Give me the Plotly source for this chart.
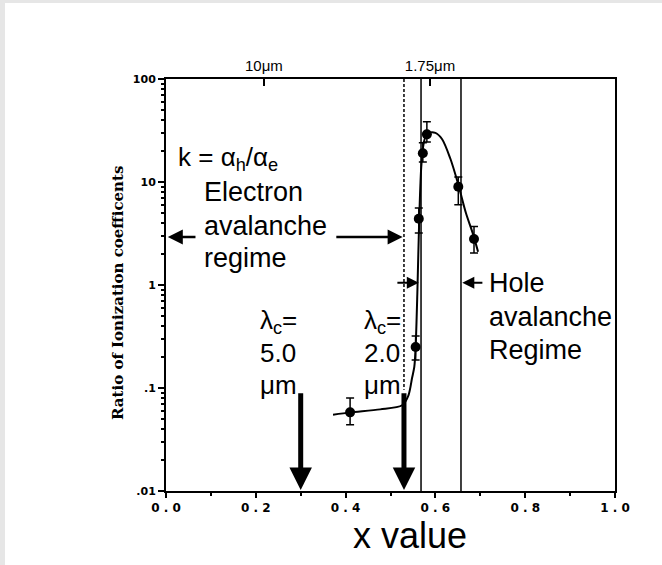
import math
import plotly.graph_objects as go

# Measured ionization-coefficient ratio k = alpha_h / alpha_e
x_meas = [0.410, 0.556, 0.563, 0.572, 0.581, 0.651, 0.686]
k_meas = [0.058, 0.25, 4.4, 19.0, 29.0, 9.0, 2.8]
k_hi = [0.080, 0.32, 5.6, 24.0, 38.5, 11.2, 3.7]
k_lo = [0.044, 0.187, 3.2, 15.6, 24.4, 6.0, 2.05]

# Guide-to-the-eye curve through the measurements
x_fit = [0.372, 0.410, 0.477, 0.526, 0.540, 0.548, 0.553, 0.556, 0.560, 0.564,
         0.569, 0.576, 0.586, 0.600, 0.615, 0.633, 0.650, 0.668, 0.684, 0.695]
k_fit = [0.055, 0.058, 0.062, 0.068, 0.085, 0.125, 0.16, 0.25, 0.9, 4.4,
         15.0, 26.0, 30.0, 30.0, 26.0, 17.0, 9.8, 5.0, 3.1, 2.1]

# Cut-off wavelength markers and regime boundaries
cutoff_x = [0.30, 0.53]
cutoff_labels = ["5.0", "2.0"]
boundary_x = [0.568, 0.657]

# Axis ticks
x_tick_vals = [0.0, 0.2, 0.4, 0.6, 0.8, 1.0]
x_tick_labels = ["0.0", "0.2", "0.4", "0.6", "0.8", "1.0"]
y_tick_vals = [0.01, 0.1, 1, 10, 100]
y_tick_labels = [".01", ".1", "1", "10", "100"]
top_tick_vals = [0.218, 0.588]
top_tick_labels = ["10\u03bcm", "1.75\u03bcm"]

W, H = 662, 565
L, R, T, B = 166, 47, 79, 74

SANS = "Arial, Liberation Sans, sans-serif"
BOLD_TICK = dict(family="DejaVu Sans", size=11, color="black", weight="bold")

fig = go.Figure()

# vertical lines: cut-off (dashed) and regime boundaries (solid)
fig.add_trace(go.Scatter(x=[cutoff_x[1], cutoff_x[1]], y=[100, 0.096], mode="lines",
                         line=dict(color="black", width=1.5, dash="3px,2px"),
                         showlegend=False, hoverinfo="skip"))
for bx in boundary_x:
    fig.add_trace(go.Scatter(x=[bx, bx], y=[0.01, 100], mode="lines",
                             line=dict(color="black", width=1.5),
                             showlegend=False, hoverinfo="skip"))

fig.add_trace(go.Scatter(x=x_fit, y=k_fit, mode="lines",
                         line=dict(color="black", width=2, shape="spline", smoothing=0.8),
                         showlegend=False, hoverinfo="skip"))

fig.add_trace(go.Scatter(
    x=x_meas, y=k_meas, mode="markers",
    marker=dict(color="black", size=10),
    error_y=dict(type="data", symmetric=False,
                 array=[h - k for h, k in zip(k_hi, k_meas)],
                 arrayminus=[k - l for k, l in zip(k_meas, k_lo)],
                 color="black", thickness=1.5, width=4),
    showlegend=False))

# carrier for the top axis
fig.add_trace(go.Scatter(x=[0.5], y=[1], xaxis="x2", mode="markers",
                         marker=dict(opacity=0), showlegend=False, hoverinfo="skip"))

lg = math.log10
ann = []


def arrow(x_tip, y_tip, x_tail, y_tail, width, size):
    ann.append(dict(x=x_tip, y=lg(y_tip), ax=x_tail, ay=lg(y_tail),
                    xref="x", yref="y", axref="x", ayref="y", text="",
                    showarrow=True, arrowhead=2, arrowwidth=width,
                    arrowsize=size, arrowcolor="black", standoff=0))


def label(x, y, text, size=27):
    ann.append(dict(x=x, y=lg(y), xref="x", yref="y", text=text, showarrow=False,
                    xanchor="left", yanchor="middle",
                    font=dict(family=SANS, size=size, color="black")))


# lambda_c arrows and labels
for cx, lab, tx in zip(cutoff_x, cutoff_labels, [0.205, 0.437]):
    arrow(cx, 0.0102, cx, 0.092, 5, 0.9)
    label(tx, 0.44, "\u03bb<sub>c</sub>=", 26)
    label(tx, 0.22, lab, 26)
    label(tx, 0.107, "\u03bcm", 26)

# regime arrows
arrow(0.004, 2.93, 0.069, 2.93, 2.5, 1.2)
arrow(0.527, 2.93, 0.376, 2.93, 2.5, 1.2)
arrow(0.563, 1.05, 0.512, 1.05, 2, 1.2)
arrow(0.660, 1.05, 0.708, 1.05, 2, 1.2)

label(0.022, 17.0, "k = \u03b1<sub>h</sub>/\u03b1<sub>e</sub>", 26)
label(0.080, 8.0, "Electron")
label(0.080, 3.74, "avalanche")
label(0.080, 1.83, "regime")
label(0.715, 1.045, "Hole")
label(0.715, 0.49, "avalanche")
label(0.715, 0.234, "Regime")

# axis titles
pw, ph = W - L - R, H - T - B
ann.append(dict(x=(118 - L) / pw, y=(H - B - 293) / ph, xref="paper", yref="paper",
                text="Ratio of Ionization coefficents", textangle=-90, showarrow=False,
                xanchor="center", yanchor="middle",
                font=dict(family="DejaVu Serif", size=15, color="black", weight="bold")))
ann.append(dict(x=(410 - L) / pw, y=(H - B - 535) / ph, xref="paper", yref="paper",
                text="x value", showarrow=False, xanchor="center", yanchor="middle",
                font=dict(family=SANS, size=36, color="black")))


def px_x(p):
    return (p - L) / pw


def px_y(p):
    return (H - B - p) / ph


# light grey page edge on the left and top
shapes = [
    dict(type="rect", xref="paper", yref="paper", x0=px_x(0), x1=px_x(5),
         y0=px_y(H), y1=px_y(0), fillcolor="#e6e6e6", line=dict(width=0)),
    dict(type="rect", xref="paper", yref="paper", x0=px_x(0), x1=px_x(W),
         y0=px_y(3), y1=px_y(0), fillcolor="#e6e6e6", line=dict(width=0)),
]

fig.update_layout(
    width=W, height=H, autosize=False,
    margin=dict(l=L, r=R, t=T, b=B, pad=0),
    paper_bgcolor="white", plot_bgcolor="white",
    annotations=ann, shapes=shapes,
    xaxis=dict(range=[0, 1], tickmode="array", tickvals=x_tick_vals,
               ticktext=[s.replace(".", " . ") for s in x_tick_labels],
               ticks="outside", ticklen=5, tickwidth=1.5, tickcolor="black",
               minor=dict(tickmode="array", tickvals=[0.1, 0.3, 0.5, 0.7, 0.9],
                          ticks="outside", ticklen=3, tickcolor="black"),
               showline=True, linecolor="black", linewidth=2, mirror=True,
               showgrid=False, zeroline=False,
               tickfont=dict(family="DejaVu Sans", size=12, color="black", weight="bold")),
    xaxis2=dict(range=[0, 1], overlaying="x", side="top", anchor="y",
                tickmode="array", tickvals=top_tick_vals, ticktext=top_tick_labels,
                ticks="inside", ticklen=7, tickwidth=1.5, tickcolor="black",
                ticklabelstandoff=4,
                showline=False, showgrid=False, zeroline=False,
                tickfont=dict(family=SANS, size=15, color="black")),
    yaxis=dict(type="log", range=[-2, 2], tickmode="array", tickvals=y_tick_vals,
               ticktext=y_tick_labels, ticks="outside", ticklen=6, tickwidth=1.5,
               tickcolor="black",
               minor=dict(tickmode="array",
                          tickvals=[m * 10 ** e for e in range(-2, 2) for m in range(2, 10)],
                          ticks="outside", ticklen=3, tickcolor="black"),
               showline=True, linecolor="black", linewidth=2, mirror=True,
               showgrid=False, zeroline=False, tickfont=BOLD_TICK),
)

fig.write_html("out.html")
